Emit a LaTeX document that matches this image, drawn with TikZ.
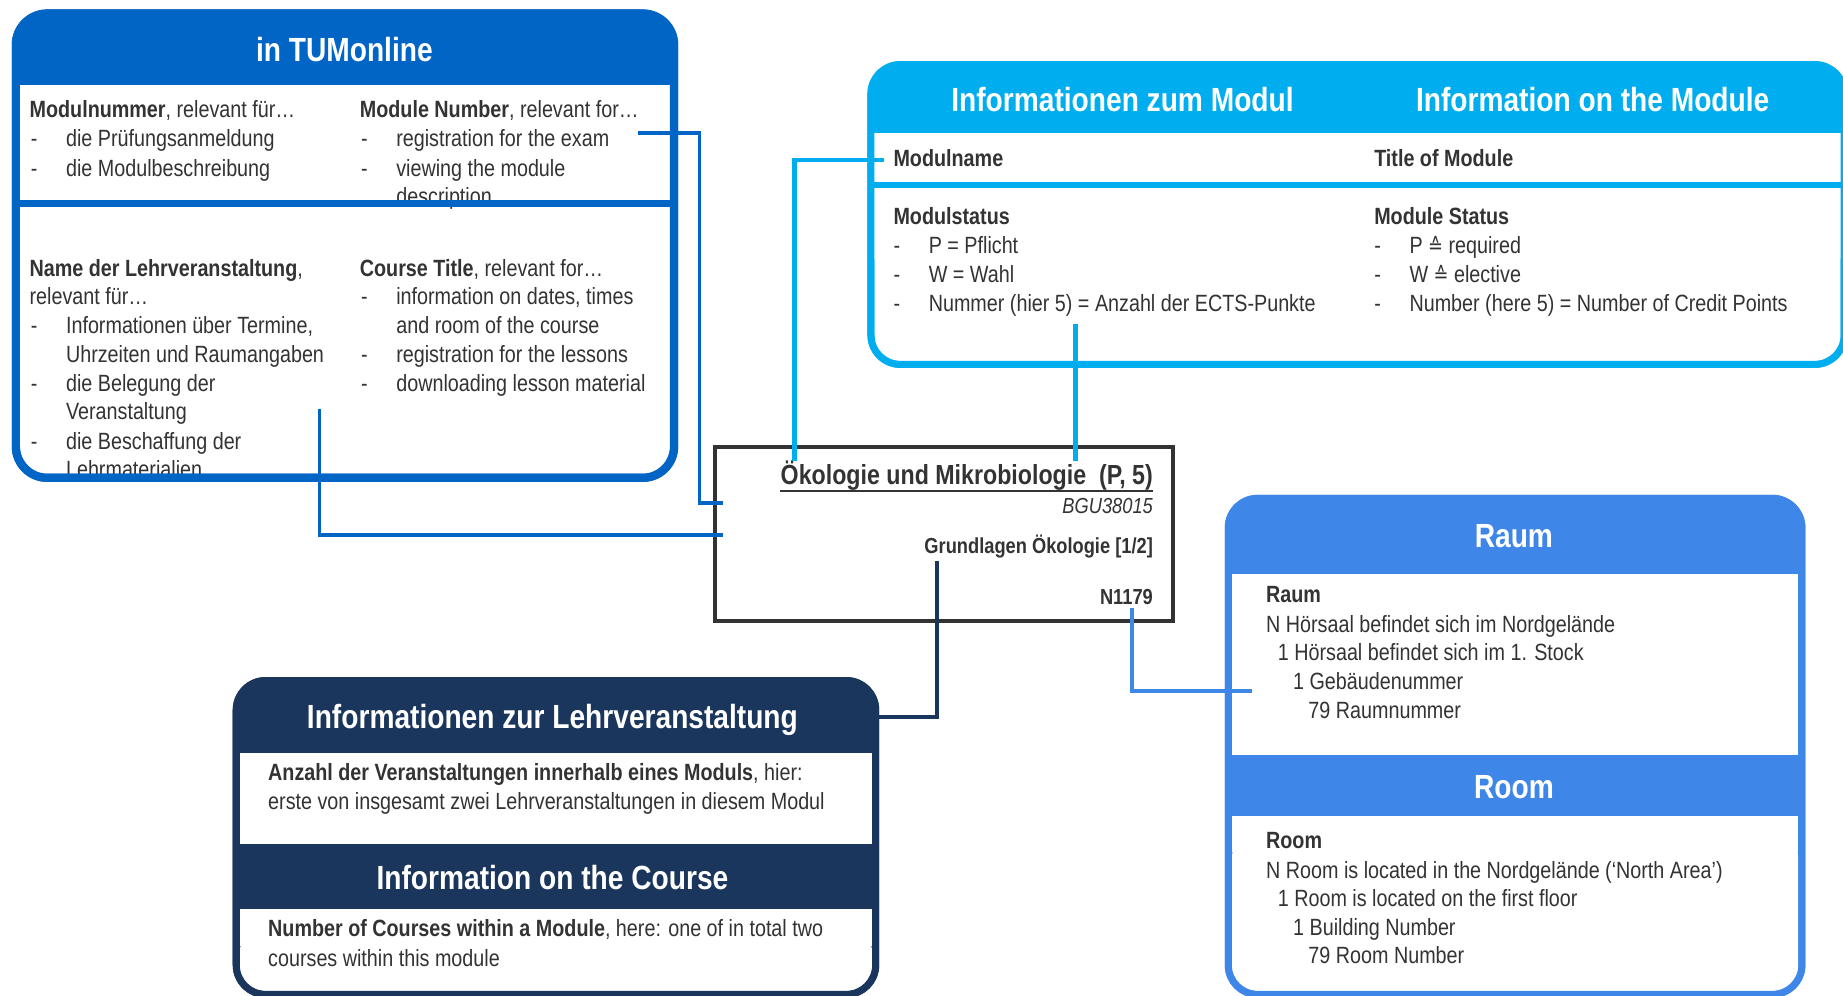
\documentclass[tikz,border=0pt]{standalone}
\usepackage{fontspec}
\setmainfont[FakeStretch=0.84]{Liberation Sans}
\newfontfamily\symfont[FakeStretch=0.84]{DejaVu Sans}
\definecolor{tumblue}{RGB}{0,101,196}
\definecolor{modblue}{RGB}{0,174,239}
\definecolor{navyblue}{RGB}{27,54,93}
\definecolor{raumblue}{RGB}{62,134,232}
\definecolor{txt}{RGB}{51,51,51}
\newcommand\dsh{\makebox[30pt][l]{-}}
\newcommand\Ln[4]{\node[body] (#1) at (#2,#3) {#4};}
\newcommand\corr{{\symfont\fontsize{18}{20}\selectfont ≙}}
\tikzset{
  body/.style={font=\fontsize{20}{24}\selectfont, text=txt, inner sep=0pt, anchor=base west},
  head/.style={font=\fontsize{28.5}{32}\selectfont\bfseries, text=white, inner sep=0pt, anchor=base},
  ctr/.style={text=txt, inner sep=0pt, anchor=base east},
  conn/.style={line width=3pt},
}
\begin{document}
\begin{tikzpicture}[x=1pt,y=-1pt]
\useasboundingbox (0,0) rectangle (1568,847);
\fill[white] (0,0) rectangle (1568,847);

% ---------- TUMonline box ----------
\fill[tumblue, rounded corners=30pt] (10,8) rectangle (577,410);
\fill[white] (17,72) rectangle (570,250);
\fill[white, rounded corners=22pt] (17,200) rectangle (570,403);
\node[head] (tumH) at (293,52) {in TUMonline};
\Ln{t1}{25}{100}{\textbf{Modulnummer}, relevant für…}
\Ln{t2}{26}{125}{\dsh die Prüfungsanmeldung}
\Ln{t3}{26}{150}{\dsh die Modulbeschreibung}
\Ln{t4}{306}{100}{\textbf{Module Number}, relevant for…}
\Ln{t5}{307}{125}{\dsh registration for the exam}
\Ln{t6}{307}{150}{\dsh viewing the module}
\Ln{t7}{337}{174}{description}
\Ln{t8}{25}{235}{\textbf{Name der Lehrveranstaltung},}
\Ln{t9}{25}{259}{relevant für…}
\Ln{t10}{26}{284}{\dsh Informationen über Termine,}
\Ln{t11}{56}{308}{Uhrzeiten und Raumangaben}
\Ln{t12}{26}{333}{\dsh die Belegung der}
\Ln{t13}{56}{357}{Veranstaltung}
\Ln{t14}{26}{382}{\dsh die Beschaffung der}
\Ln{t15}{56}{406}{Lehrmaterialien}
\Ln{t16}{306}{235}{\textbf{Course Title}, relevant for…}
\Ln{t17}{307}{259}{\dsh information on dates, times}
\Ln{t18}{337}{284}{and room of the course}
\Ln{t19}{307}{308}{\dsh registration for the lessons}
\Ln{t20}{307}{333}{\dsh downloading lesson material}
\draw[tumblue, line width=7pt, rounded corners=27pt] (13.5,11.5) rectangle (573.5,406.5);
\fill[tumblue] (13,170) rectangle (574,176);

% ---------- Module box ----------
\fill[modblue, rounded corners=28pt] (738,52) rectangle (1572,313);
\fill[white] (744,113) rectangle (1566,220);
\fill[white, rounded corners=20pt] (744,180) rectangle (1566,307);
\node[head] (modH1) at (955,95) {Informationen zum Modul};
\node[head] (modH2) at (1355,95) {Information on the Module};
\Ln{m1}{760}{142}{\textbf{Modulname}}
\Ln{m2}{1169}{142}{\textbf{Title of Module}}
\Ln{m3}{760}{191}{\textbf{Modulstatus}}
\Ln{m4}{760}{216}{\dsh P = Pflicht}
\Ln{m5}{760}{240}{\dsh W = Wahl}
\Ln{m6}{760}{265}{\dsh Nummer (hier 5) = Anzahl der ECTS-Punkte}
\Ln{m7}{1169}{191}{\textbf{Module Status}}
\Ln{m8}{1169}{216}{\dsh P \corr{} required}
\Ln{m9}{1169}{240}{\dsh W \corr{} elective}
\Ln{m10}{1169}{265}{\dsh Number (here 5) = Number of Credit Points}
\draw[modblue, line width=6pt, rounded corners=25pt] (741,55) rectangle (1569,310);
\fill[modblue] (741,155) rectangle (1569,160);

% ---------- Lehrveranstaltung box ----------
\fill[navyblue, rounded corners=28pt] (198,576) rectangle (748,849);
\fill[white] (204,641) rectangle (742,718);
\fill[white] (204,773) rectangle (742,805);
\fill[white, rounded corners=20pt] (204,790) rectangle (742,843);
\node[head] (lvH1) at (470,620) {Informationen zur Lehrveranstaltung};
\node[head] (lvH2) at (470,757) {Information on the Course};
\Ln{l1}{228}{664}{\textbf{Anzahl der Veranstaltungen innerhalb eines Moduls}, hier:}
\Ln{l2}{228}{689}{erste von insgesamt zwei Lehrveranstaltungen in diesem Modul}
\Ln{l3}{228}{797}{\textbf{Number of Courses within a Module}, here: one of in total two}
\Ln{l4}{228}{822}{courses within this module}
\draw[navyblue, line width=6pt, rounded corners=25pt] (201,579) rectangle (745,846);

% ---------- Raum box ----------
\fill[raumblue, rounded corners=28pt] (1042,421) rectangle (1536,849);
\fill[white] (1048,488) rectangle (1530,642);
\fill[white] (1048,694) rectangle (1530,725);
\fill[white, rounded corners=20pt] (1048,710) rectangle (1530,843);
\node[head] (rmH1) at (1288,466) {Raum};
\node[head] (rmH2) at (1288,679) {Room};
\Ln{r1}{1077}{513}{\textbf{Raum}}
\Ln{r2}{1077}{538}{N Hörsaal befindet sich im Nordgelände}
\Ln{r3}{1087}{562}{1 Hörsaal befindet sich im 1. Stock}
\Ln{r4}{1100}{587}{1 Gebäudenummer}
\Ln{r5}{1113}{611}{79 Raumnummer}
\Ln{r6}{1077}{722}{\textbf{Room}}
\Ln{r7}{1077}{747}{N Room is located in the Nordgelände (‘North Area’)}
\Ln{r8}{1087}{771}{1 Room is located on the first floor}
\Ln{r9}{1100}{796}{1 Building Number}
\Ln{r10}{1113}{820}{79 Room Number}
\draw[raumblue, line width=6pt, rounded corners=25pt] (1045,424) rectangle (1533,846);

% ---------- central box ----------
\draw[txt, line width=3.5pt, fill=white] (608,380) rectangle (998,528);
\node[ctr, font=\fontsize{23.5}{28}\selectfont\bfseries] (c1) at (981,412) {Ökologie und Mikrobiologie\ \ (P, 5)};
\draw[txt, line width=1.5pt] ([yshift=-5.5pt]c1.base west) -- ([yshift=-5.5pt]c1.base east);
\node[ctr, font=\fontsize{18.5}{22}\selectfont\itshape] (c2) at (981,437) {BGU38015};
\node[ctr, font=\fontsize{18.5}{22}\selectfont\bfseries] (c3) at (981,471) {Grundlagen Ökologie [1/2]};
\node[ctr, font=\fontsize{18.5}{22}\selectfont\bfseries] (c4) at (981,514) {N1179};

% ---------- connectors ----------
\coordinate (a1) at (543,113); \coordinate (a2) at (595,428); \coordinate (a3) at (615,428);
\draw[tumblue, conn] (a1) -| (a2) -- (a3);
\coordinate (b1) at (272,348); \coordinate (b2) at (615,455);
\draw[tumblue, conn] (b1) |- (b2);
\coordinate (d1) at (752,136); \coordinate (d2) at (676,392);
\draw[modblue, line width=4pt] (d1) -| (d2);
\coordinate (e1) at (915,276); \coordinate (e2) at (915,392);
\draw[modblue, line width=4pt] (e1) -- (e2);
\coordinate (f1) at (797,477); \coordinate (f2) at (748,610);
\draw[navyblue, conn] (f1) |- (f2);
\coordinate (g1) at (963,517); \coordinate (g2) at (1065,588);
\draw[raumblue, conn] (g1) |- (g2);
\end{tikzpicture}
\end{document}
